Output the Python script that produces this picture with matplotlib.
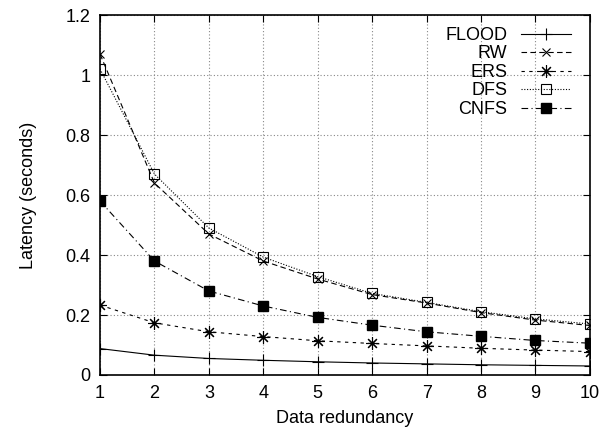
import numpy as np
import matplotlib
matplotlib.use('Agg')
import matplotlib.pyplot as plt

plt.rcParams['font.family'] = ['Liberation Sans', 'DejaVu Sans']

# 数据冗余度
redundancy = [1, 2, 3, 4, 5, 6, 7, 8, 9, 10]

# 各算法的延迟 (秒)
flood = [0.088, 0.066, 0.055, 0.049, 0.044, 0.040, 0.037, 0.034, 0.032, 0.030]
rw = [1.07, 0.64, 0.47, 0.38, 0.32, 0.268, 0.240, 0.208, 0.183, 0.165]
ers = [0.233, 0.174, 0.144, 0.128, 0.114, 0.105, 0.097, 0.089, 0.083, 0.078]
dfs = [1.02, 0.67, 0.49, 0.393, 0.328, 0.272, 0.242, 0.211, 0.187, 0.170]
cnfs = [0.58, 0.38, 0.28, 0.23, 0.192, 0.166, 0.144, 0.129, 0.115, 0.106]

fig = plt.figure(figsize=(6.1, 4.32), dpi=100)
ax = fig.add_axes([0.164, 0.132, 0.803, 0.833])

ax.plot(redundancy, flood, color='black', linestyle='-', linewidth=0.8,
        marker='+', markersize=8, markeredgewidth=0.8, label='FLOOD')
ax.plot(redundancy, rw, color='black', linestyle=(0, (5, 3)), linewidth=0.8,
        marker='x', markersize=6, markeredgewidth=0.8, label='RW')
ax.plot(redundancy, ers, color='black', linestyle=(0, (3, 4)), linewidth=0.8,
        marker=(8, 2, 0), markersize=9, markeredgewidth=0.8, label='ERS')
ax.plot(redundancy, dfs, color='black', linestyle=(0, (1, 1.5)), linewidth=0.8,
        marker='s', markersize=7, markerfacecolor='none', markeredgewidth=0.8, label='DFS')
ax.plot(redundancy, cnfs, color='black', linestyle=(0, (6, 3, 1, 3)), linewidth=0.8,
        marker='s', markersize=7, markerfacecolor='black', label='CNFS')

ax.set_xlim(1, 10)
ax.set_ylim(0, 1.2)
ax.set_xticks(redundancy)
ax.set_yticks([0, 0.2, 0.4, 0.6, 0.8, 1, 1.2])
ax.set_yticklabels(['0', '0.2', '0.4', '0.6', '0.8', '1', '1.2'])
ax.grid(True, color='#888888', linestyle=(0, (1, 2)), linewidth=0.8)
ax.tick_params(direction='in', top=True, right=True, length=5, labelsize=13, pad=7)
for s in ax.spines.values():
    s.set_linewidth(1.2)

ax.set_xlabel('Data redundancy', fontsize=13, labelpad=6)
ax.set_ylabel('Latency (seconds)', fontsize=13, labelpad=20)

leg = ax.legend(loc='upper right', bbox_to_anchor=(0.995, 1.012), markerfirst=False,
                frameon=False, fontsize=13, handlelength=2.8, labelspacing=0.08,
                borderaxespad=0.3, handletextpad=0.75, borderpad=0.6)
for t in leg.get_texts():
    t.set_ha('right')
leg._legend_box.align = 'right'

fig.savefig('out.png', dpi=100)
